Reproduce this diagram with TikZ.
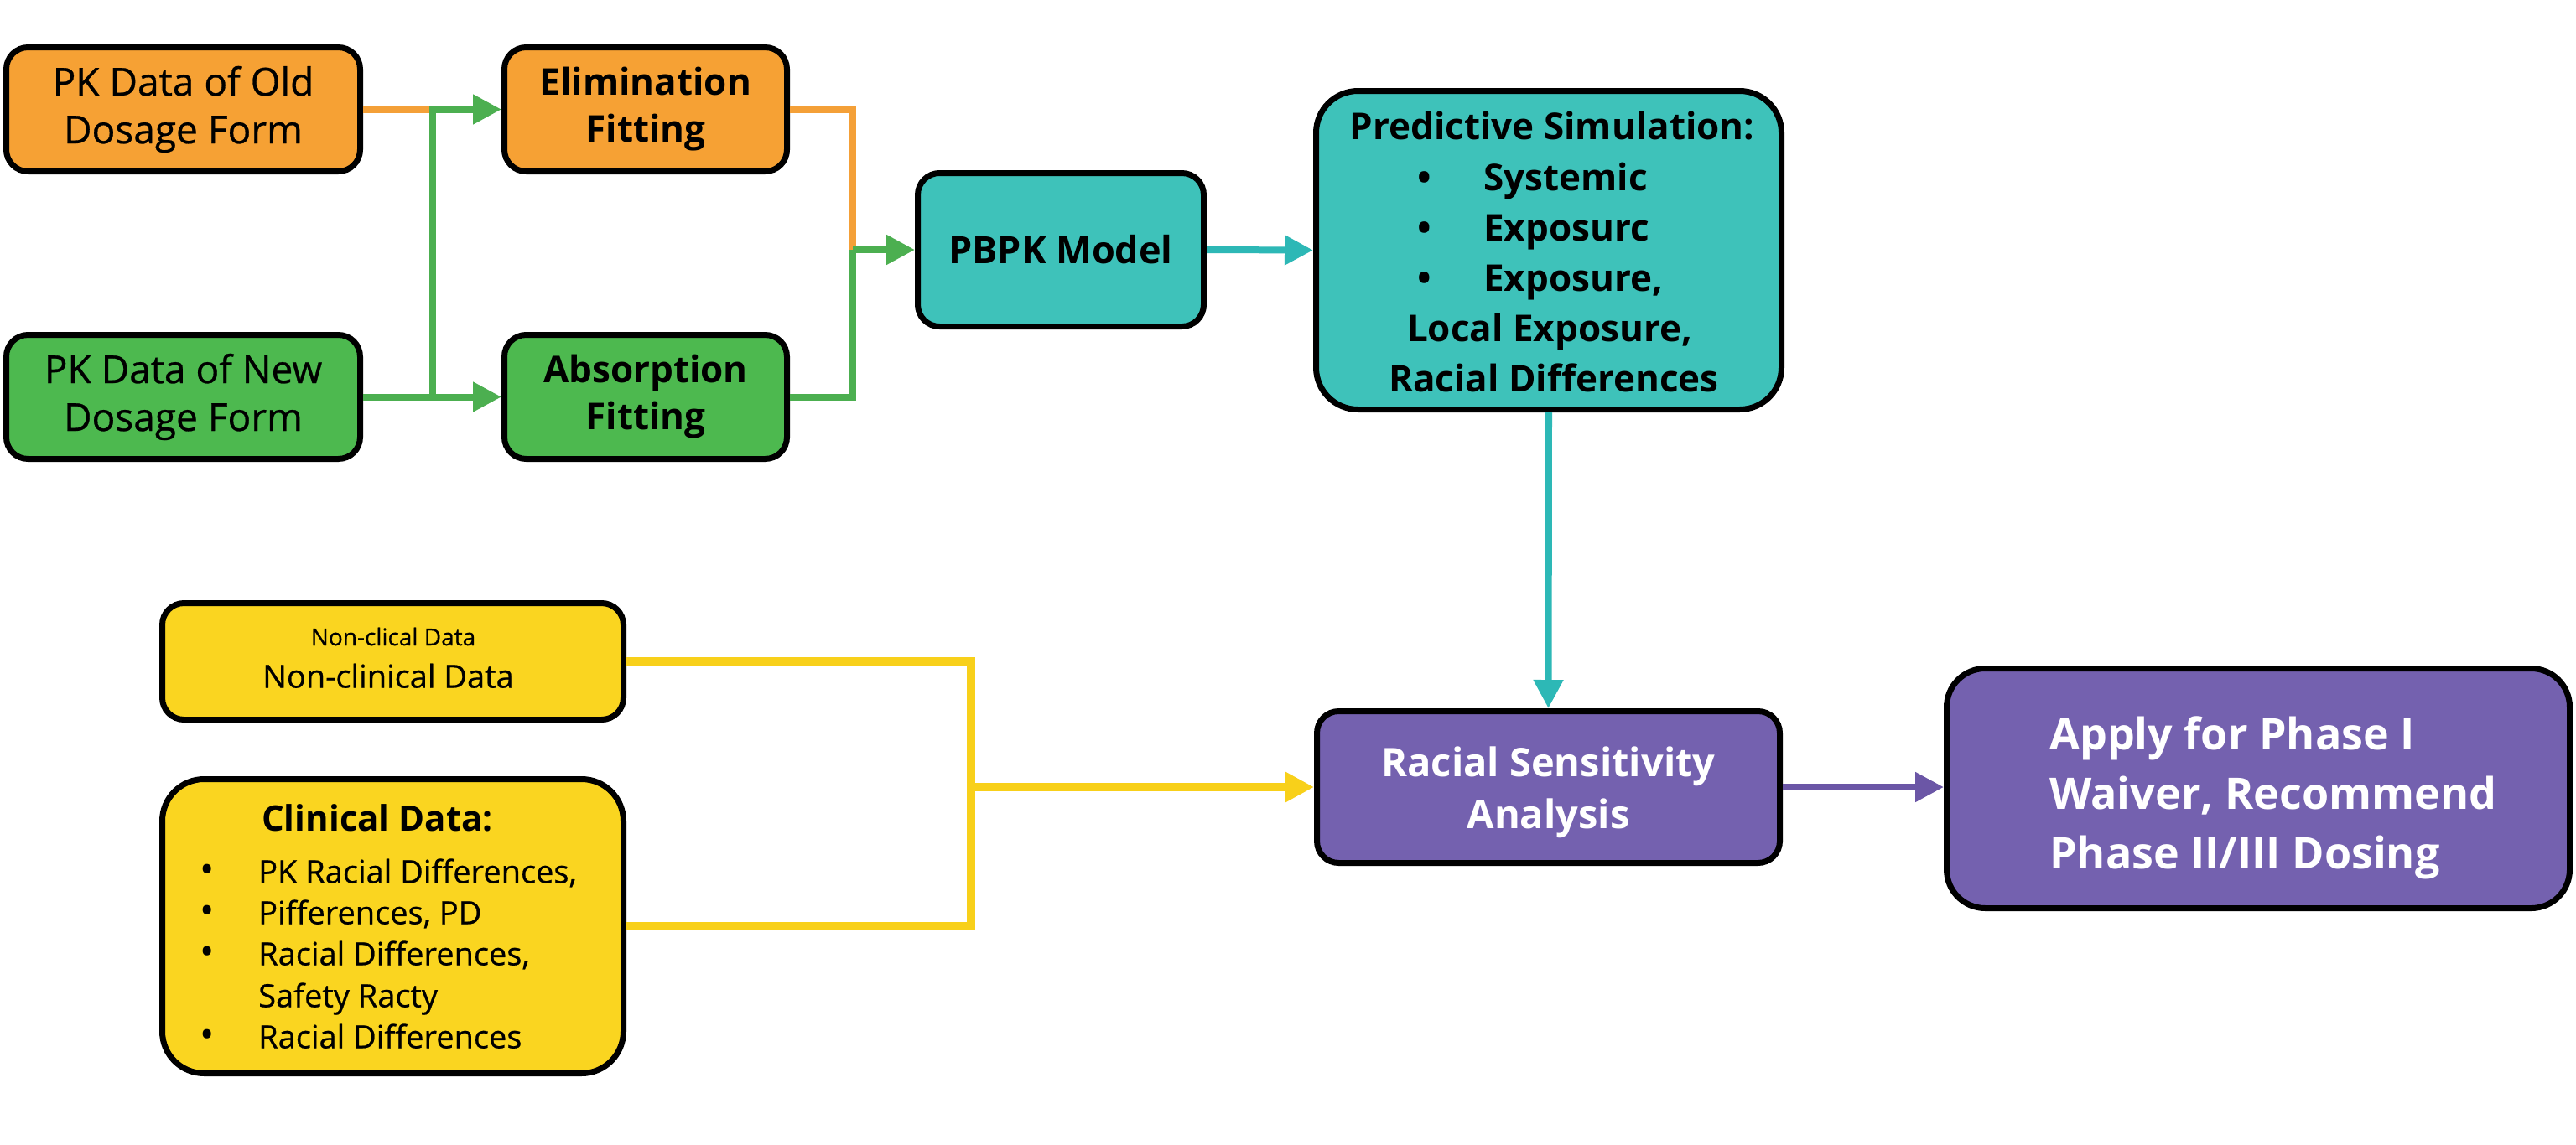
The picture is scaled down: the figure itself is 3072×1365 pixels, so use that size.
\documentclass[tikz,border=0pt]{standalone}
\usepackage{fontspec}
\setmainfont{Open Sans}
\newfontfamily\medfont{Open Sans}[FakeBold=0.6]
\usetikzlibrary{arrows.meta}
\definecolor{orfill}{HTML}{F6A134}
\definecolor{grfill}{HTML}{4DB94F}
\definecolor{tefill}{HTML}{3EC2BA}
\definecolor{yefill}{HTML}{FAD520}
\definecolor{pufill}{HTML}{7461AF}
\definecolor{orline}{HTML}{F4A038}
\definecolor{grline}{HTML}{4CAF50}
\definecolor{teline}{HTML}{2DB8B6}
\definecolor{yeline}{HTML}{F8D01A}
\definecolor{puline}{HTML}{6B56A6}
\begin{document}
\begin{tikzpicture}[x=1pt,y=-1pt,
  box/.style={draw=black, line width=7pt, rounded corners=26pt, inner sep=0pt, align=center, text=black},
  conn/.style={line width=8pt},
  tip/.style={-{Triangle[length=34pt,width=34pt]}},
  ptext/.style={inner sep=0pt, font=\fontsize{44}{53}\selectfont\bfseries, text height=32pt, text depth=0pt},
  ctext/.style={inner sep=0pt, font=\medfont\fontsize{38}{45}\selectfont, text height=27pt, text depth=0pt},
  cbul/.style={inner sep=0pt, font=\fontsize{46}{45}\selectfont, text height=27pt, text depth=0pt}
]
\fill[white] (0,0) rectangle (3072,1365);
\useasboundingbox (0,0) rectangle (3072,1365);

% boxes
\node[box, fill=orfill, minimum width=422pt, minimum height=148pt, font=\medfont\fontsize{46}{57}\selectfont] (old) at (218.5,130.5) {PK Data of Old\\Dosage Form};
\node[box, fill=orfill, minimum width=337pt, minimum height=148pt, font=\fontsize{44}{56}\selectfont\bfseries] (elim) at (770,130.5) {Elimination\\Fitting};
\node[box, fill=grfill, minimum width=422pt, minimum height=148pt, font=\medfont\fontsize{46}{57}\selectfont] (new) at (218.5,473.5) {PK Data of New\\Dosage Form};
\node[box, fill=grfill, minimum width=337pt, minimum height=148pt, font=\fontsize{44}{56}\selectfont\bfseries] (absorp) at (770,473.5) {Absorption\\Fitting};
\node[box, fill=tefill, minimum width=341pt, minimum height=183pt, font=\fontsize{45}{54}\selectfont\bfseries] (pbpk) at (1265,298) {PBPK Model};
\node[box, fill=tefill, minimum width=555pt, minimum height=380pt, rounded corners=50pt] (pred) at (1847,298.5) {};
\node[box, fill=yefill, minimum width=550pt, minimum height=139pt] (noncl) at (468.5,789) {};
\node[box, fill=yefill, minimum width=550pt, minimum height=351pt, rounded corners=50pt] (clin) at (468.5,1105) {};
\node[box, fill=pufill, minimum width=552pt, minimum height=181pt] (racial) at (1846.5,939) {};
\node[box, fill=pufill, minimum width=743pt, minimum height=286pt, rounded corners=46pt] (apply) at (2693,940.5) {};

% racial text
\node[inner sep=0pt, align=center, text=white, font=\fontsize{47}{62}\selectfont\bfseries] (r0) at (1846.5,945) {Racial Sensitivity\\Analysis};

% predictive text
\node[ptext] (p0) at (1851,150) {Predictive Simulation:};
\node[ptext] (pb1) at (1699,211) {•};
\node[ptext, anchor=west] (p1) at (1769,211) {Systemic};
\node[ptext] (pb2) at (1699,271) {•};
\node[ptext, anchor=west] (p2) at (1769,271) {Exposurc};
\node[ptext] (pb3) at (1699,331) {•};
\node[ptext, anchor=west] (p3) at (1769,331) {Exposure,};
\node[ptext] (p4) at (1848,391) {Local Exposure,};
\node[ptext] (p5) at (1853,451) {Racial Differences};

% non-clinical text
\node[inner sep=0pt, font=\medfont\fontsize{28}{32}\selectfont, text height=20pt, text depth=0pt] (n0) at (469,760) {Non-clical Data};
\node[inner sep=0pt, font=\medfont\fontsize{38}{43}\selectfont, text height=27pt, text depth=0pt] (n1) at (463,807) {Non-clinical Data};

% clinical text
\node[inner sep=0pt, font=\fontsize{42}{50}\selectfont\bfseries, text height=30pt, text depth=0pt] (c0) at (450,976) {Clinical Data:};
\node[cbul] (cb1) at (247,1040) {•};
\node[ctext, anchor=west] (c1) at (308,1040) {PK Racial Differences,};
\node[cbul] (cb2) at (247,1089) {•};
\node[ctext, anchor=west] (c2) at (308,1089) {Pifferences, PD};
\node[cbul] (cb3) at (247,1138) {•};
\node[ctext, anchor=west] (c3) at (308,1138) {Racial Differences,};
\node[ctext, anchor=west] (c4) at (308,1188) {Safety Racty};
\node[cbul] (cb5) at (247,1237) {•};
\node[ctext, anchor=west] (c5) at (308,1237) {Racial Differences};

% apply text
\node[inner sep=0pt, anchor=west, align=left, text=white, font=\fontsize{52}{71}\selectfont\bfseries] (a0) at (2444,952) {Apply for Phase I\\Waiver, Recommend\\Phase II/III Dosing};

% connectors
\coordinate (ja) at (516,130.5);
\coordinate (jc) at (1017,298);
\coordinate (jd) at (1158,939);
\draw[conn, orline] (old.east) -- (ja);
\draw[conn, grline, tip] (new.east) -- (absorp.west);
\draw[conn, grline, tip] (new.east -| ja) -- (ja) -- (elim.west);
\draw[conn, orline] (elim.east) -| (jc);
\draw[conn, grline] (absorp.east) -| (jc);
\draw[conn, grline, tip] (jc) -- (pbpk.west);
\draw[conn, teline, tip] (pbpk.east) -- (pred.west);
\draw[conn, teline, tip] (pred.south) -- (racial.north);
\draw[conn, yeline, line width=10pt] (noncl.east) -| (jd);
\draw[conn, yeline, line width=10pt] (clin.east) -| (jd);
\draw[conn, yeline, line width=10pt, tip] (jd) -- (racial.west);
\draw[conn, puline, tip] (racial.east) -- (racial.east -| apply.west);
\end{tikzpicture}
\end{document}
